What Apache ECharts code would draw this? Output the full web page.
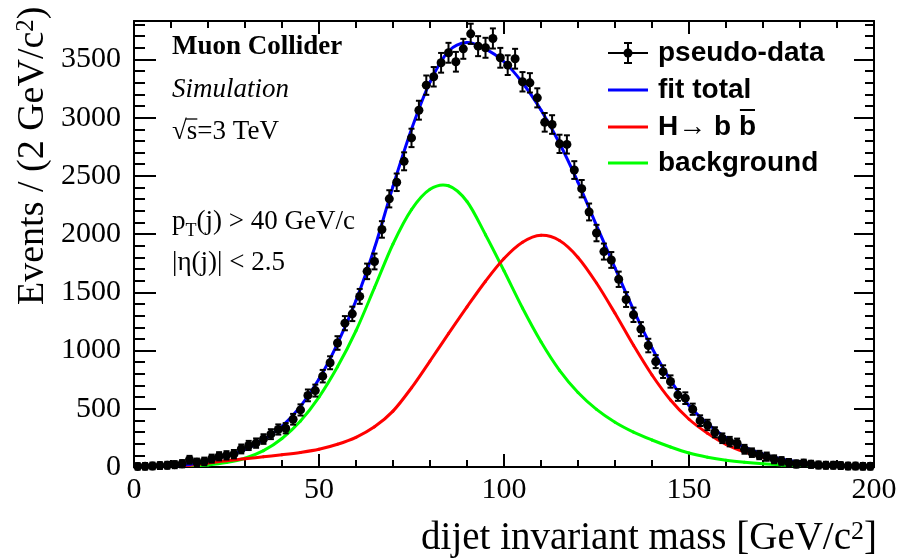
<!DOCTYPE html>
<html><head><meta charset="utf-8">
<script src="https://cdn.jsdelivr.net/npm/echarts@6/dist/echarts.min.js"></script>
<style>html,body{margin:0;padding:0;background:#fff}#c{width:901px;height:558px}</style>
</head><body><div id="c"></div>
<script>
// ---- data ----
const binWidth = 2; // GeV per bin, bins from 0 to 200
const counts = [
  5, 6, 9, 12, 15, 20, 28, 62, 40, 48,
  72, 92, 100, 110, 155, 185, 205, 240, 282, 322,
  333, 410, 490, 615, 656, 780, 895, 1065, 1235, 1315,
  1465, 1680, 1765, 2040, 2303, 2445, 2625, 2826, 3064, 3279,
  3351, 3471, 3557, 3480, 3591, 3720, 3614, 3600, 3680, 3514,
  3451, 3506, 3308, 3299, 3170, 2960, 2941, 2775, 2770, 2550,
  2390, 2190, 2009, 1850, 1778, 1612, 1438, 1307, 1184, 1043,
  905, 819, 734, 619, 591, 496, 398, 361, 298, 247,
  218, 204, 152, 123, 103, 89, 66, 52, 37, 26,
  32, 23, 17, 15, 15, 12, 8, 8, 6, 6
];
const curveStep = 5; // curves sampled every 5 GeV from 0 to 200
const fitTotal = [0, 3, 9, 22, 53, 95, 150, 235, 350, 520, 755, 1060, 1430, 1880, 2410, 2900, 3305, 3570, 3645, 3590,
  3480, 3300, 3065, 2780, 2445, 2075, 1710, 1350, 1022, 745, 528, 372, 252, 170, 111, 68, 39, 22, 12, 6, 3];
const signal = [0, 2, 6, 14, 34, 54, 70, 88, 105, 125, 152, 195, 255, 345, 480, 680, 910, 1145, 1375, 1595,
  1790, 1930, 1990, 1945, 1800, 1580, 1320, 1045, 790, 575, 410, 290, 195, 130, 84, 50, 28, 15, 8, 4, 2];
const background = [0, 1, 3, 8, 18, 38, 75, 140, 245, 395, 600, 860, 1170, 1540, 1915, 2210, 2385, 2415, 2280, 1995,
  1685, 1365, 1075, 830, 640, 495, 385, 300, 232, 172, 120, 84, 58, 40, 27, 18, 11, 7, 4, 2, 1];
const xRange = [0, 200];
const yRange = [0, 3830];
const xMajor = 50, xMinor = 10, yMajor = 500, yMinor = 100;
const legendLabels = ['pseudo-data', 'fit total', 'H\u2192 b b', 'background'];
const textLines = ['Muon Collider', 'Simulation', '\u221As=3 TeV', ['p', 'T', '(j) > 40 GeV/c'], '|\u03B7(j)| < 2.5'];
const axisTitles = {x: ['dijet invariant mass [GeV/c', '2', ']'], y: ['Events / (2 GeV/c', '2', ')']};

// ---- chart ----
const chart = echarts.init(document.getElementById('c'), null, {renderer: 'canvas'});
const binCenters = counts.map((_, i) => binWidth * (i + 0.5));
const dataPts = counts.map((v, i) => [binCenters[i], v]);
const curve = arr => arr.map((v, i) => [i * curveStep, v]);

const serif = 'Liberation Serif';
const sans = 'Liberation Sans';
const GL = 134, GR = 27, GT = 21, GB = 91;
const mctx = document.createElement('canvas').getContext('2d');
const measure = (t, f) => { mctx.font = f; return mctx.measureText(t).width; };

function xAx(pos, interval, tickLen, main) {
  return {
    type: 'value', position: pos, min: xRange[0], max: xRange[1], interval: interval,
    axisLine: {show: main, onZero: false, lineStyle: {color: '#000', width: 2}},
    axisTick: {show: true, inside: true, length: tickLen, lineStyle: {color: '#000', width: 2}},
    axisLabel: {show: main && pos === 'bottom', margin: 8, color: '#000', fontFamily: serif, fontSize: 30},
    splitLine: {show: false}
  };
}
function yAx(pos, interval, tickLen, main) {
  return {
    type: 'value', position: pos, min: yRange[0], max: yRange[1], interval: interval,
    axisLine: {show: main, onZero: false, lineStyle: {color: '#000', width: 2}},
    axisTick: {show: true, inside: true, length: tickLen, lineStyle: {color: '#000', width: 2}},
    axisLabel: {show: main && pos === 'left', margin: 13, color: '#000', fontFamily: serif, fontSize: 30,
      formatter: v => (v % yMajor === 0 ? String(v) : '')},
    splitLine: {show: false}
  };
}

// smooth curve through the read points (Catmull-Rom segments in pixel space)
function curveRenderer(color) {
  return function (params, api) {
    const i = params.dataIndexInside, n = params.dataInsideLength;
    if (i >= n - 1) return {type: 'group', children: []};
    const P = k => {
      const kk = Math.max(0, Math.min(n - 1, k));
      return api.coord([api.value(0, kk), api.value(1, kk)]);
    };
    const p0 = P(i - 1), p1 = P(i), p2 = P(i + 1), p3 = P(i + 2);
    return {type: 'bezierCurve', shape: {
      x1: p1[0], y1: p1[1], x2: p2[0], y2: p2[1],
      cpx1: p1[0] + (p2[0] - p0[0]) / 6, cpy1: p1[1] + (p2[1] - p0[1]) / 6,
      cpx2: p2[0] - (p3[0] - p1[0]) / 6, cpy2: p2[1] - (p3[1] - p1[1]) / 6},
      style: {stroke: color, lineWidth: 3, fill: null, lineCap: 'round'}};
  };
}

const lineY = [53, 90, 127, 163];
const lx0 = 608, lx1 = 648, ltx = 658;
const legendFont = 'bold 28px "' + sans + '"';
const tFont = '27px "' + serif + '"';
const titleRich = sz => ({m: {fontFamily: serif, fontSize: sz, fill: '#000'}, s: {fontFamily: serif, fontSize: Math.round(sz * 0.66), fill: '#000', verticalAlign: 'top'}});
const rt = a => '{m|' + a[0] + '}{s|' + a[1] + '}{m|' + a[2] + '}';

const graphics = [
  // axis titles
  {type: 'text', x: 33, y: 305, rotation: Math.PI / 2, style: {
    text: rt(axisTitles.y), align: 'left', verticalAlign: 'middle', rich: titleRich(38)}},
  {type: 'text', x: 877, y: 539, style: {
    text: rt(axisTitles.x), align: 'right', verticalAlign: 'middle', rich: titleRich(39)}},
  // text block
  {type: 'text', x: 172, y: 47, style: {text: textLines[0], font: 'bold 27px "' + serif + '"', fill: '#000', verticalAlign: 'middle'}},
  {type: 'text', x: 172, y: 90, style: {text: textLines[1], font: 'italic 27px "' + serif + '"', fill: '#000', verticalAlign: 'middle'}},
  {type: 'text', x: 172, y: 132, style: {text: textLines[2], font: tFont, fill: '#000', verticalAlign: 'middle'}},
  {type: 'text', x: 172, y: 263, style: {text: textLines[4], font: tFont, fill: '#000', verticalAlign: 'middle'}},
  // legend
  {type: 'line', shape: {x1: lx0, y1: lineY[0], x2: lx1, y2: lineY[0]}, style: {stroke: '#000', lineWidth: 2}},
  {type: 'line', shape: {x1: 628, y1: lineY[0] - 10, x2: 628, y2: lineY[0] + 10}, style: {stroke: '#000', lineWidth: 2}},
  {type: 'line', shape: {x1: 624, y1: lineY[0] - 10, x2: 632, y2: lineY[0] - 10}, style: {stroke: '#000', lineWidth: 2}},
  {type: 'line', shape: {x1: 624, y1: lineY[0] + 10, x2: 632, y2: lineY[0] + 10}, style: {stroke: '#000', lineWidth: 2}},
  {type: 'circle', shape: {cx: 628, cy: lineY[0], r: 4.5}, style: {fill: '#000'}},
  {type: 'line', shape: {x1: lx0, y1: lineY[1], x2: lx1, y2: lineY[1]}, style: {stroke: '#0000ff', lineWidth: 3}},
  {type: 'line', shape: {x1: lx0, y1: lineY[2], x2: lx1, y2: lineY[2]}, style: {stroke: '#ff0000', lineWidth: 3}},
  {type: 'line', shape: {x1: lx0, y1: lineY[3], x2: lx1, y2: lineY[3]}, style: {stroke: '#00ff00', lineWidth: 3}}
];
// p_T(j) line with a real subscript, and the square-root bar
(function () {
  const p = textLines[3];
  const w0 = measure(p[0], tFont);
  const subFont = '18px "' + serif + '"';
  const w1 = measure(p[1], subFont);
  graphics.push({type: 'text', x: 172, y: 222, style: {text: p[0], font: tFont, fill: '#000', verticalAlign: 'middle'}});
  graphics.push({type: 'text', x: 172 + w0, y: 231, style: {text: p[1], font: subFont, fill: '#000', verticalAlign: 'middle'}});
  graphics.push({type: 'text', x: 172 + w0 + w1, y: 222, style: {text: p[2], font: tFont, fill: '#000', verticalAlign: 'middle'}});
  const wr = measure('\u221A', tFont), ws = measure('s', tFont);
  graphics.push({type: 'line', shape: {x1: 172 + wr - 1, y1: 119, x2: 172 + wr + ws, y2: 119}, style: {stroke: '#000', lineWidth: 1.3}});
})();
legendLabels.forEach((t, i) => {
  graphics.push({type: 'text', x: ltx, y: lineY[i], style: {text: t, font: legendFont, fill: '#000', verticalAlign: 'middle'}});
});
// overline over the last "b" of H-> b b
(function () {
  const full = measure(legendLabels[2], legendFont);
  const lastB = measure('b', legendFont);
  graphics.push({type: 'line', shape: {x1: ltx + full - lastB + 1, y1: lineY[2] - 17, x2: ltx + full - 1, y2: lineY[2] - 17},
    style: {stroke: '#000', lineWidth: 2}});
})();

const option = {
  animation: false,
  backgroundColor: '#fff',
  grid: {left: GL, right: GR, top: GT, bottom: GB, containLabel: false, outerBoundsMode: 'none'},
  xAxis: [xAx('bottom', xMajor, 13, true), xAx('bottom', xMinor, 7, false), xAx('top', xMajor, 13, true), xAx('top', xMinor, 7, false)],
  yAxis: [yAx('left', yMajor, 22, true), yAx('left', yMinor, 11, false), yAx('right', yMajor, 20, true), yAx('right', yMinor, 9, false)],
  series: [
    {type: 'custom', name: 'background', data: curve(background), renderItem: curveRenderer('#00ff00'), z: 2, clip: true},
    {type: 'custom', name: 'signal', data: curve(signal), renderItem: curveRenderer('#ff0000'), z: 2, clip: true},
    {type: 'custom', name: 'fit total', data: curve(fitTotal), renderItem: curveRenderer('#0000ff'), z: 3, clip: true},
    {type: 'custom', name: 'pseudo-data', data: dataPts, z: 4,
      renderItem: function (params, api) {
        const x = api.value(0), y = api.value(1), e = Math.sqrt(y);
        const c = api.coord([x, y]);
        const t = api.coord([x, y + e]);
        const b = api.coord([x, Math.max(0, y - e)]);
        const l = api.coord([x - binWidth / 2, y]);
        const r = api.coord([x + binWidth / 2, y]);
        const st = {stroke: '#000', lineWidth: 2};
        return {type: 'group', children: [
          {type: 'line', shape: {x1: l[0], y1: c[1], x2: r[0], y2: c[1]}, style: st},
          {type: 'line', shape: {x1: c[0], y1: t[1] - 3, x2: c[0], y2: b[1] + 3}, style: st},
          {type: 'line', shape: {x1: c[0] - 3, y1: t[1] - 3, x2: c[0] + 3, y2: t[1] - 3}, style: st},
          {type: 'line', shape: {x1: c[0] - 3, y1: b[1] + 3, x2: c[0] + 3, y2: b[1] + 3}, style: st},
          {type: 'circle', shape: {cx: c[0], cy: c[1], r: 4.5}, style: {fill: '#000'}}
        ]};
      }}
  ],
  graphic: graphics
};
chart.setOption(option);
</script></body></html>
